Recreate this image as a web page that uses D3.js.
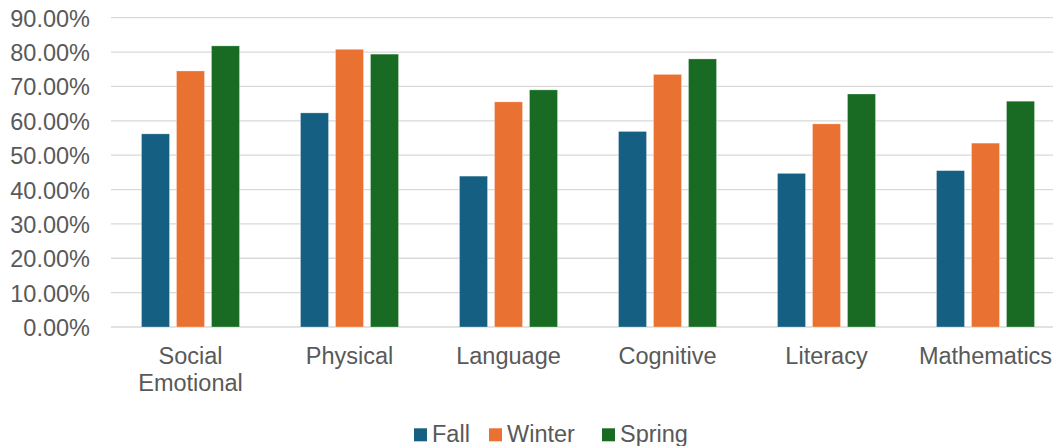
<!DOCTYPE html>
<html>
<head>
<meta charset="utf-8">
<script src="https://cdn.jsdelivr.net/npm/d3@7"></script>
<style>
  html, body { margin: 0; padding: 0; background: #fff; overflow: hidden; }
  svg { display: block; font-family: "Liberation Sans", Arial, sans-serif; }
</style>
</head>
<body>
<svg id="chart" width="1053" height="446"></svg>
<script>
const categories = [["Social", "Emotional"], ["Physical"], ["Language"], ["Cognitive"], ["Literacy"], ["Mathematics"]];
const series = ["Fall", "Winter", "Spring"];
const fall   = [0.562, 0.623, 0.439, 0.569, 0.447, 0.455];
const winter = [0.745, 0.808, 0.655, 0.735, 0.591, 0.535];
const spring = [0.818, 0.794, 0.690, 0.780, 0.678, 0.657];
const colors = ["#156082", "#E97132", "#196B24"];
const yTicks = [0, 0.1, 0.2, 0.3, 0.4, 0.5, 0.6, 0.7, 0.8, 0.9];

(function () {
const values = [fall, winter, spring];
const catKeys = categories.map(c => c.join(" "));

const svg = d3.select("#chart");
const mLeft = 111, mRight = 1065, mTop = 17.7, mBottom = 327;

const x0 = d3.scaleBand().domain(catKeys).range([mLeft, mRight]);
const x1 = d3.scaleBand().domain(series).range([30.5, x0.bandwidth() - 30.5]).paddingInner(0.2);
const y = d3.scaleLinear().domain([0, 0.9]).range([mBottom, mTop]);

// gridlines
svg.append("g").selectAll("line").data(yTicks).join("line")
  .attr("x1", mLeft).attr("x2", 1053)
  .attr("y1", d => y(d)).attr("y2", d => y(d))
  .attr("stroke", "#d9d9d9").attr("stroke-width", 1.3);

// y tick labels
const fmt = d3.format(".2%");
svg.append("g").selectAll("text").data(yTicks).join("text")
  .attr("x", 90).attr("y", d => y(d) + 1)
  .attr("text-anchor", "end").attr("dominant-baseline", "central")
  .attr("font-size", 23.5).attr("fill", "#595959")
  .text(d => fmt(d));

// bars
const groups = svg.append("g").selectAll("g").data(catKeys).join("g")
  .attr("transform", d => `translate(${x0(d)},0)`);
groups.selectAll("rect")
  .data((d, i) => series.map((s, j) => ({ s, j, v: values[j][i] })))
  .join("rect")
  .attr("x", d => x1(d.s))
  .attr("width", x1.bandwidth())
  .attr("y", d => y(d.v))
  .attr("height", d => mBottom - y(d.v))
  .attr("fill", d => colors[d.j])
  .attr("stroke", "#ffffff").attr("stroke-opacity", 0.35).attr("stroke-width", 0.8);

// category labels
const labels = svg.append("g").selectAll("text").data(categories).join("text")
  .attr("x", (d, i) => x0(catKeys[i]) + x0.bandwidth() / 2)
  .attr("y", 363.5)
  .attr("text-anchor", "middle")
  .attr("font-size", 23.5).attr("fill", "#595959");
labels.selectAll("tspan").data(d => d).join("tspan")
  .attr("x", function() { return d3.select(this.parentNode).attr("x"); })
  .attr("dy", (d, i) => i === 0 ? 0 : 27.2)
  .text(d => d);

// legend
const legendX = [414, 489, 602];
const lg = svg.append("g").selectAll("g").data(series).join("g")
  .attr("transform", (d, i) => `translate(${legendX[i]},0)`);
lg.append("rect").attr("x", 0).attr("y", 428.3).attr("width", 13).attr("height", 13)
  .attr("fill", (d, i) => colors[i]);
lg.append("text").attr("x", 18).attr("y", 441.7)
  .attr("font-size", 23.5).attr("fill", "#595959").text(d => d);
})();
</script>
</body>
</html>
